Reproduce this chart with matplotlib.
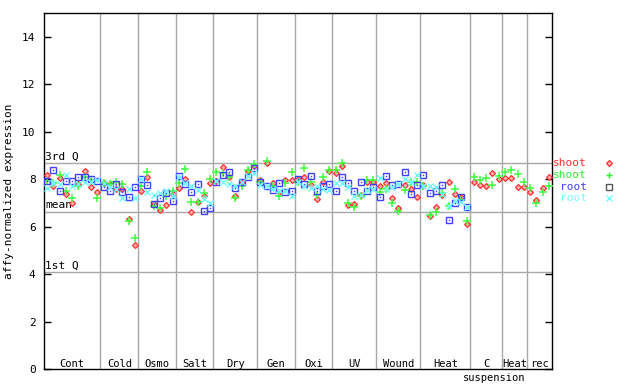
import matplotlib
matplotlib.use("Agg")
import matplotlib.pyplot as plt
import matplotlib.transforms as mtrans
import numpy as np

# groups of samples along the x axis (sample counts per group)
groups = ["Cont", "Cold", "Osmo", "Salt", "Dry", "Gen", "Oxi", "UV",
          "Wound", "Heat", "C\nsuspension", "Heat", "rec"]
group_sizes = [9, 6, 6, 6, 7, 6, 6, 7, 7, 8, 5, 4, 4]

# reference lines
q3_value = 8.69
mean_value = 6.62
q1_value = 4.09

shoot_red = [8.18, 7.72, 8.04, 7.37, 6.99, 7.79, 8.35, 7.66, 7.44, 7.83, 7.79, 7.60, 7.58, 6.33,
             5.23, 7.52, 8.08, 6.96, 6.71, 6.92, 7.37, 7.62, 8.00, 6.61, 7.05, 7.27, 7.83, 7.94,
             8.50, 8.08, 7.27, 7.90, 8.36, 8.55, 7.97, 8.70, 7.83, 7.44, 7.97, 7.97, 8.00, 8.08,
             7.76, 7.16, 7.90, 8.36, 8.25, 8.56, 6.92, 6.95, 7.34, 7.90, 7.90, 7.72, 7.83,
             7.20, 6.78, 7.76, 7.58, 7.24, 7.76, 6.43, 6.82, 7.34, 7.90, 7.38, 7.24, 6.12,
             7.87, 7.75, 7.69, 8.25, 8.00, 8.04, 8.04, 7.66, 7.66, 7.44, 7.13, 7.62, 8.08]

shoot_green = [7.93, 7.84, 8.18, 7.48, 7.20, 7.72, 8.10, 7.95, 7.20, 7.83, 7.79, 7.86, 7.79, 6.25,
               5.51, 7.72, 8.32, 6.85, 6.78, 7.27, 7.48, 7.83, 8.42, 7.03, 7.03, 7.41, 8.00, 8.28,
               8.25, 8.10, 7.20, 7.69, 8.39, 8.65, 7.90, 8.75, 7.69, 7.27, 7.83, 8.32, 7.90, 8.46,
               7.90, 7.34, 8.08, 8.39, 8.39, 8.70, 6.99, 6.82, 7.30, 7.97, 7.97, 7.44, 7.58,
               6.99, 6.64, 7.55, 7.86, 7.90, 7.69, 6.50, 6.60, 7.41, 6.85, 7.58, 7.13, 6.24,
               8.08, 7.97, 8.04, 7.76, 8.14, 8.28, 8.39, 8.22, 7.87, 7.62, 6.99, 7.44, 7.72]

root_blue = [7.93, 8.39, 7.51, 7.94, 7.94, 8.08, 8.08, 8.01, 7.93, 7.66, 7.48, 7.79, 7.44, 7.24,
             7.66, 8.00, 7.76, 6.96, 7.20, 7.41, 7.09, 8.14, 7.79, 7.45, 7.80, 6.66, 6.78, 7.90,
             8.18, 8.28, 7.62, 7.86, 8.08, 8.46, 7.86, 7.72, 7.55, 7.83, 7.44, 7.51, 8.00, 7.79,
             8.14, 7.48, 7.72, 7.79, 7.52, 8.08, 7.83, 7.48, 7.87, 7.48, 7.66, 7.24, 8.14,
             7.76, 7.80, 8.28, 7.38, 7.76, 8.18, 7.41, 7.51, 7.76, 6.29, 6.99, 7.24, 6.82]

root_cyan = [7.62, 7.84, 7.80, 8.18, 7.70, 7.80, 7.90, 7.90, 7.95, 7.83, 7.65, 7.60, 7.20, 7.60,
             7.20, 8.00, 7.44, 7.34, 7.41, 7.48, 7.30, 8.10, 7.85, 7.69, 7.55, 7.16, 6.99, 7.94,
             7.86, 7.80, 7.70, 7.90, 8.14, 8.25, 7.76, 7.70, 7.58, 7.55, 7.48, 7.27, 7.90, 7.69,
             7.62, 7.72, 7.60, 7.55, 7.83, 7.83, 7.66, 7.27, 7.34, 7.55, 7.60, 8.04, 7.58,
             7.66, 7.80, 8.00, 7.90, 8.18, 7.72, 7.72, 7.66, 7.38, 6.85, 7.06, 7.02, 6.82]

plt.rcParams["font.family"] = ["DejaVu Sans Mono"]
plt.rcParams["font.size"] = 8

fig = plt.figure(figsize=(6.4, 3.84), dpi=100)
ax = fig.add_axes([44 / 640, 15 / 384, 508 / 640, 356 / 384])

n_total = sum(group_sizes)
ax.set_xlim(-0.5, n_total - 0.5)
ax.set_ylim(0, 15)

grid_color = "#a8a8a8"
edges = np.cumsum(group_sizes) - 0.5
for e in edges[:-1]:
    ax.axvline(e, color=grid_color, lw=1, zorder=1)
for v in (q3_value, mean_value, q1_value):
    ax.axhline(v, color=grid_color, lw=1, zorder=1)

# group labels: first line inside the axes, further lines below it
starts = np.concatenate([[-0.5], edges[:-1]])
trans = mtrans.blended_transform_factory(ax.transData, fig.transFigure)
for name, s, e in zip(groups, starts, edges):
    for k, line in enumerate(name.split("\n")):
        ypx = 364 + 14 * k
        xc = (s + e) / 2 + (1.3 if k > 0 else 0)
        ax.text(xc, 1 - ypx / 384, line, transform=trans, ha="center", va="center",
                fontsize=7.5, clip_on=False)

# quartile / mean labels
for label, v in (("3rd Q", q3_value), ("mean", mean_value), ("1st Q", q1_value)):
    ax.text(0.002, v + 0.06, label, transform=ax.get_yaxis_transform(),
            ha="left", va="bottom", fontsize=8)

x_shoot = np.arange(len(shoot_red))
x_root = np.arange(len(root_blue))
ax.plot(x_shoot, shoot_red, ls="none", marker="D", ms=3.0, mfc="#ffb0b0",
        mec="#ff3030", mew=0.9, zorder=3)
ax.plot(x_shoot, shoot_green, ls="none", marker="+", ms=5.5, mec="#40ff40",
        mew=1.1, zorder=3)
ax.plot(x_root, root_blue, ls="none", marker="s", ms=4.2, mfc="none",
        mec="#4040ff", mew=1.0, zorder=3)
ax.plot(x_root, root_blue, ls="none", marker="s", ms=1, mfc="#4040ff",
        mec="#4040ff", mew=0, zorder=3)
ax.plot(x_root, root_cyan, ls="none", marker="x", ms=4.2, mec="#70ffff",
        mew=1.0, zorder=3)

ax.set_yticks(range(0, 15, 2))
ax.set_xticks([])
ax.tick_params(axis="y", direction="in", length=5, width=1, right=True, labelsize=8, pad=6)
for sp in ax.spines.values():
    sp.set_linewidth(1)
ax.set_ylabel("affy-normalized expression", fontsize=8, labelpad=6)

# legend outside on the right
legend_items = [("shoot", "#ff3030", "D", 163), ("shoot", "#30ee30", "+", 175),
                ("root", "#4040ff", "s", 187), ("root", "#70ffff", "x", 198)]
for text, col, mk, ypx in legend_items:
    fy = 1 - ypx / 384
    fig.text(587 / 640, fy, text, color=col, ha="right", va="center", fontsize=8)
    if mk == "D":
        fig.add_artist(plt.Line2D([609 / 640], [fy], marker="D", ms=3.0, mfc="#ffb0b0",
                                  mec=col, mew=0.9, ls="none"))
    elif mk == "s":
        fig.add_artist(plt.Line2D([609 / 640], [fy], marker="s", ms=4.2, mfc="none",
                                  mec="#555555", mew=1.0, ls="none"))
    else:
        fig.add_artist(plt.Line2D([609 / 640], [fy], marker=mk, ms=4.5, mec=col,
                                  mew=1.0, ls="none"))

fig.savefig("out.png", dpi=100)
